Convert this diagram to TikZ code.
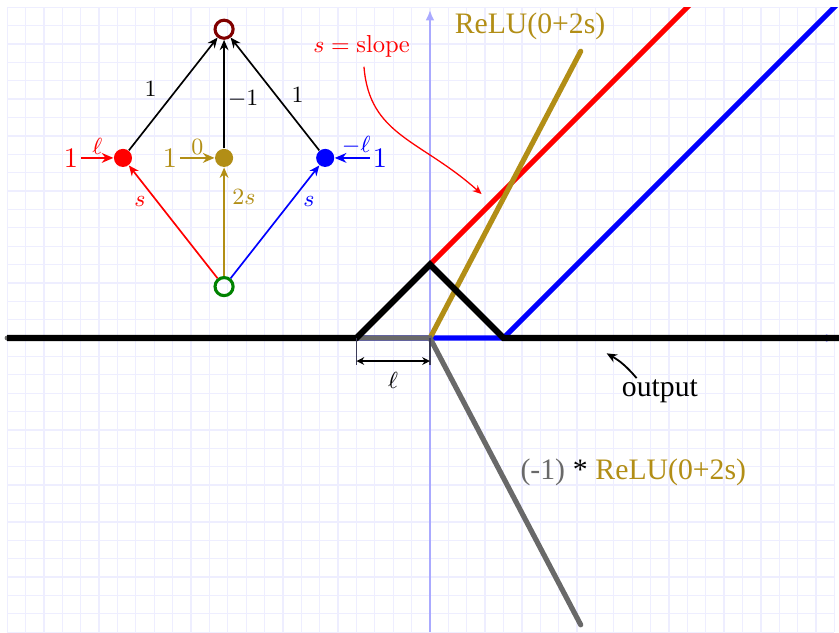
\documentclass[tikz,border=0pt]{standalone}
\usepackage{fontspec}
\newfontfamily\lib{Liberation Serif}
\usetikzlibrary{arrows.meta}
\definecolor{gold}{RGB}{178,142,22}
\definecolor{dgray}{RGB}{105,105,105}
\definecolor{gridc}{RGB}{238,238,255}
\definecolor{axisc}{RGB}{170,170,255}
\definecolor{maroon}{RGB}{128,0,0}
\definecolor{dgreen}{RGB}{0,130,0}
\definecolor{dimc}{RGB}{60,60,90}
\begin{document}
\begin{tikzpicture}[x=0.25cm,y=0.25cm,
  lbl/.style={font=\fontsize{9.5}{11}\selectfont, inner sep=1pt},
  elbl/.style={font=\fontsize{9}{10}\selectfont, inner sep=1pt},
  hollow/.style={circle, draw, line width=1.2pt, minimum size=7pt, inner sep=0pt},
  dot/.style={circle, fill, minimum size=7pt, inner sep=0pt},
  net/.style={-{Stealth[length=4pt,width=3.4pt]}, line width=0.65pt},
  inarrow/.style={-{Stealth[length=4.5pt,width=3.8pt]}, line width=0.9pt},
  fn/.style={line width=2pt},
  txt/.style={font=\lib\fontsize{11.5}{13}\selectfont, inner sep=0pt},
  axis/.style={axisc, line width=0.8pt, -{Latex[length=4pt,width=3.4pt]}},
]
\useasboundingbox (-23.39,-16) rectangle (22.25,18.39);
% grid
\draw[gridc, line width=0.5pt, step=0.25cm] (-23,-16) grid (22,18);
% axes
\draw[axis] (0,-16) -- (0,17.85);
\draw[axis] (-23,0) -- (22.1,0);
% functions
\begin{scope}
  \clip (-23.39,-16) rectangle (22.25,18);
  \draw[fn, red] (-23,0) -- (-4,0) -- (14.6,18.6);
  \draw[fn, blue] (-23,0) -- (4,0) -- (22.6,18.6);
\end{scope}
\draw[fn, gold, line cap=round] (0,0) -- (8.2,15.6);
\draw[fn, dgray, line cap=round] (-23,0) -- (0,0) -- (8.2,-15.6);
\draw[line width=2.4pt, line join=miter] (-23,0) -- (-4,0) -- (0,4) -- (4,0) -- (22.4,0);
% dimension l
\coordinate (dla) at (-4,0);
\coordinate (dlb) at (-4,-1.47);
\coordinate (dra) at (0,0);
\coordinate (drb) at (0,-1.47);
\draw[dimc, line width=0.5pt] (dla) -- (dlb);
\draw[dimc, line width=0.5pt] (dra) -- (drb);
\coordinate (dal) at (-4,-1.25);
\coordinate (dar) at (0,-1.25);
\draw[{Stealth[length=3pt,width=3pt]}-{Stealth[length=3pt,width=3pt]}, line width=0.5pt] (dal) -- (dar);
\node[lbl] (ell) at (-2.01,-2.29) {$\ell$};
% output label
\node[txt] (outtxt) at (12.51,-2.87) {output};
\coordinate (oa) at (11.24,-2.18);
\coordinate (ob) at (9.61,-0.83);
\draw[-{Stealth[length=4pt,width=3.4pt]}, line width=0.7pt] (oa) to[bend right=10] (ob);
% relu labels
\node[txt, gold] (relu) at (5.44,16.94) {ReLU(0+2s)};
\node[txt, anchor=west] (negrelu) at (4.9,-7.28) {\color{dgray}(-1)\hspace{3pt}\color{black}*\hspace{3pt}\color{gold}ReLU(0+2s)};
% slope label
\node[lbl, red] (slope) at (-3.72,15.85) {$s=\mathrm{slope}$};
\coordinate (sa) at (-3.59,14.76);
\coordinate (sb) at (2.81,7.83);
\draw[red, line width=0.5pt, -{Stealth[length=3.5pt,width=3pt]}] (sa) .. controls (-3.3,11.0) and (-0.5,10.8) .. (sb);
% network
\node[hollow, draw=maroon] (out) at (-11.2,16.8) {};
\node[dot, red] (r) at (-16.7,9.8) {};
\node[dot, gold] (g) at (-11.2,9.8) {};
\node[dot, blue] (b) at (-5.7,9.8) {};
\node[hollow, draw=dgreen] (in) at (-11.2,2.8) {};
\draw[net] (r) -- (out);
\draw[net] (g) -- (out);
\draw[net] (b) -- (out);
\draw[net, red] (in) -- (r);
\draw[net, gold] (in) -- (g);
\draw[net, blue] (in) -- (b);
% inputs
\node[lbl, red, font=\fontsize{10.5}{12}\selectfont] (r1) at (-19.53,9.8) {$1$};
\node[lbl, gold, font=\fontsize{10.5}{12}\selectfont] (g1) at (-14.15,9.8) {$1$};
\node[lbl, blue, font=\fontsize{10.5}{12}\selectfont] (b1) at (-2.72,9.8) {$1$};
\draw[inarrow, red] (r1) -- node[lbl, above=0pt] {$\ell$} (r);
\draw[inarrow, gold] (g1) -- node[lbl, above=0pt] {$0$} (g);
\draw[inarrow, blue] (b1) -- node[lbl, above=0pt, xshift=1.5pt] {$-\ell$} (b);
% edge labels
\node[elbl] (w1) at (-15.2,13.53) {$1$};
\node[elbl] (w2) at (-10.17,13.0) {$-1$};
\node[elbl] (w3) at (-7.2,13.22) {$1$};
\node[elbl, red] (v1) at (-15.78,7.42) {$s$};
\node[elbl, gold] (v2) at (-10.12,7.69) {$2s$};
\node[elbl, blue] (v3) at (-6.58,7.42) {$s$};
\end{tikzpicture}
\end{document}
